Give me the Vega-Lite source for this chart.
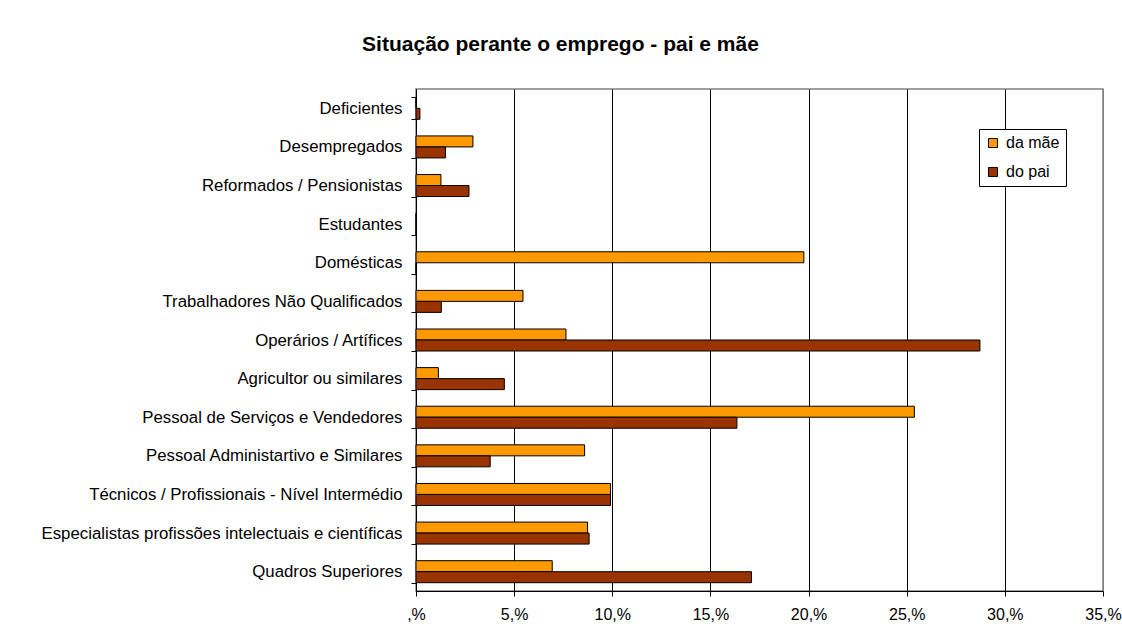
{
  "$schema": "https://vega.github.io/schema/vega-lite/v6.json",
  "autosize": "none",
  "padding": {"left": 416, "top": 89, "right": 19, "bottom": 46},
  "width": 687,
  "height": 502,
  "background": "white",
  "title": {
    "text": "Situação perante o emprego - pai e mãe",
    "font": "Liberation Sans",
    "fontSize": 21,
    "fontWeight": "bold",
    "color": "black",
    "anchor": "middle",
    "dx": -199,
    "offset": 26
  },
  "data": {
    "values": [
      {"categoria": "Deficientes", "serie": "da mãe", "valor": 0},
      {"categoria": "Deficientes", "serie": "do pai", "valor": 0.2},
      {"categoria": "Desempregados", "serie": "da mãe", "valor": 2.9},
      {"categoria": "Desempregados", "serie": "do pai", "valor": 1.5},
      {"categoria": "Reformados / Pensionistas", "serie": "da mãe", "valor": 1.27},
      {"categoria": "Reformados / Pensionistas", "serie": "do pai", "valor": 2.7},
      {"categoria": "Estudantes", "serie": "da mãe", "valor": 0},
      {"categoria": "Estudantes", "serie": "do pai", "valor": 0},
      {"categoria": "Domésticas", "serie": "da mãe", "valor": 19.76},
      {"categoria": "Domésticas", "serie": "do pai", "valor": 0},
      {"categoria": "Trabalhadores Não Qualificados", "serie": "da mãe", "valor": 5.45},
      {"categoria": "Trabalhadores Não Qualificados", "serie": "do pai", "valor": 1.29},
      {"categoria": "Operários / Artífices", "serie": "da mãe", "valor": 7.64},
      {"categoria": "Operários / Artífices", "serie": "do pai", "valor": 28.73},
      {"categoria": "Agricultor ou similares", "serie": "da mãe", "valor": 1.14},
      {"categoria": "Agricultor ou similares", "serie": "do pai", "valor": 4.5},
      {"categoria": "Pessoal de Serviços e Vendedores", "serie": "da mãe", "valor": 25.39},
      {"categoria": "Pessoal de Serviços e Vendedores", "serie": "do pai", "valor": 16.35},
      {"categoria": "Pessoal Administartivo e Similares", "serie": "da mãe", "valor": 8.59},
      {"categoria": "Pessoal Administartivo e Similares", "serie": "do pai", "valor": 3.78},
      {"categoria": "Técnicos / Profissionais - Nível Intermédio", "serie": "da mãe", "valor": 9.91},
      {"categoria": "Técnicos / Profissionais - Nível Intermédio", "serie": "do pai", "valor": 9.91},
      {"categoria": "Especialistas profissões intelectuais e científicas", "serie": "da mãe", "valor": 8.74},
      {"categoria": "Especialistas profissões intelectuais e científicas", "serie": "do pai", "valor": 8.82},
      {"categoria": "Quadros Superiores", "serie": "da mãe", "valor": 6.94},
      {"categoria": "Quadros Superiores", "serie": "do pai", "valor": 17.09}
    ]
  },
  "mark": {"type": "bar", "stroke": "black", "strokeWidth": 1},
  "encoding": {
    "y": {
      "field": "categoria",
      "type": "nominal",
      "sort": null,
      "scale": {"paddingInner": 0.43, "paddingOuter": 0.215},
      "axis": {
        "title": null,
        "labelFont": "Liberation Sans",
        "labelFontSize": 16.8,
        "labelColor": "black",
        "labelPadding": 9,
        "labelLimit": 500,
        "tickBand": "extent",
        "tickSize": 5,
        "tickColor": "black",
        "domainColor": "black",
        "grid": false
      }
    },
    "yOffset": {
      "field": "serie",
      "type": "nominal",
      "sort": ["da mãe", "do pai"]
    },
    "x": {
      "field": "valor",
      "type": "quantitative",
      "scale": {"domain": [0, 35], "nice": false},
      "axis": {
        "title": null,
        "values": [0, 5, 10, 15, 20, 25, 30, 35],
        "labelExpr": "(datum.value == 0 ? '' : datum.value) + ',%'",
        "labelFlush": false,
        "labelOverlap": false,
        "labelFont": "Liberation Sans",
        "labelFontSize": 16,
        "labelColor": "black",
        "labelPadding": 10,
        "tickSize": 5,
        "tickColor": "black",
        "domainColor": "black",
        "grid": true,
        "gridColor": {"condition": {"test": "datum.value >= 35", "value": "#808080"}, "value": "black"},
        "gridOpacity": 1,
        "gridWidth": 1
      }
    },
    "color": {
      "field": "serie",
      "type": "nominal",
      "scale": {"domain": ["da mãe", "do pai"], "range": ["#FF9900", "#993300"]},
      "legend": {
        "title": null,
        "orient": "none",
        "legendX": 563,
        "legendY": 40,
        "symbolType": "square",
        "symbolSize": 81,
        "symbolStrokeColor": "black",
        "symbolStrokeWidth": 1,
        "symbolOpacity": 1,
        "labelFont": "Liberation Sans",
        "labelFontSize": 16,
        "labelColor": "black",
        "labelOffset": 5,
        "rowPadding": 13,
        "padding": 6,
        "strokeColor": "black",
        "fillColor": "white",
        "cornerRadius": 0
      }
    }
  },
  "config": {
    "view": {"stroke": "#808080", "strokeWidth": 1.5},
    "axis": {"domainWidth": 1, "tickWidth": 1}
  }
}
